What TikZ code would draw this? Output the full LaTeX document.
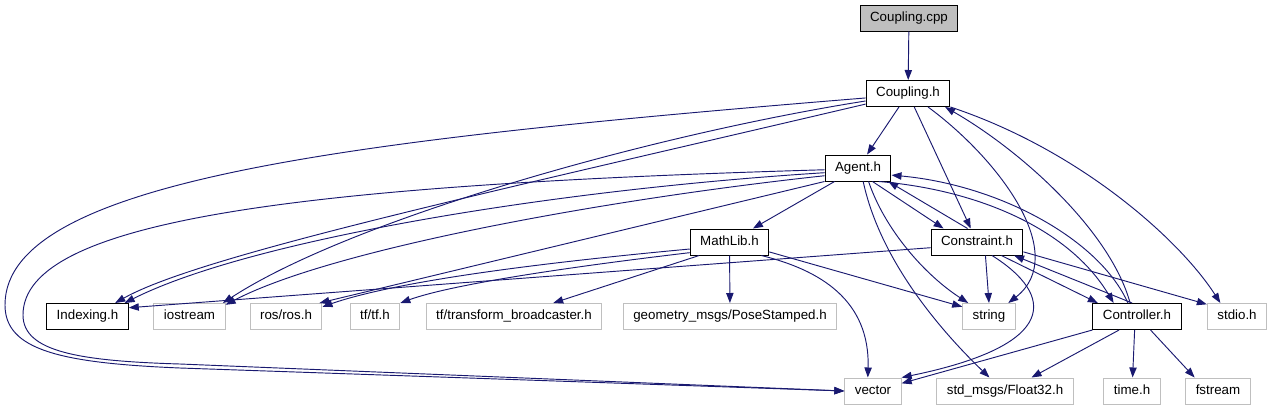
\documentclass[tikz,border=0pt]{standalone}
\usepackage{fontspec}
\setmainfont{Liberation Sans}
\usepackage{tikz}
\usetikzlibrary{arrows.meta}
\definecolor{edgeblue}{HTML}{191970}
\definecolor{extgray}{HTML}{BFBFBF}
\tikzset{
  filebox/.style={draw=black, fill=white, line width=0.75pt, inner xsep=7.5pt, inner ysep=0pt,
    minimum height=19.5pt, text height=7.2pt, text depth=2.1pt, font=\fontsize{10}{12}\selectfont, text=black},
  extbox/.style={filebox, draw=extgray},
  rootbox/.style={filebox, fill=extgray},
  incl/.style={-{Triangle[length=7.5pt,width=5.5pt]}, draw=edgeblue, line width=0.7pt}
}

\begin{document}
\begin{tikzpicture}[x=0.75pt, y=-0.75pt]
\fill[white] (0,0) rectangle (1273,411);
\useasboundingbox (0,0) rectangle (1273,411);
% files of the project
\node[rootbox] (cpp) at (909,18) {Coupling.cpp};
\node[filebox] (coupling) at (908,93.5) {Coupling.h};
\node[filebox] (agent) at (858,168) {Agent.h};
\node[filebox] (mathlib) at (729.5,242) {MathLib.h};
\node[filebox] (constraint) at (977,242) {Constraint.h};
\node[filebox] (indexing) at (87.5,316.5) {Indexing.h};
\node[filebox] (controller) at (1137,316.5) {Controller.h};
% system headers
\node[extbox] (iostream) at (189.5,316.5) {iostream};
\node[extbox] (ros) at (286,316.5) {ros/ros.h};
\node[extbox] (tftf) at (375,316.5) {tf/tf.h};
\node[extbox] (tfbr) at (514,316.5) {tf/transform\_broadcaster.h};
\node[extbox] (geom) at (730,316.5) {geometry\_msgs/PoseStamped.h};
\node[extbox] (string) at (989,316.5) {string};
\node[extbox] (stdio) at (1237,316.5) {stdio.h};
\node[extbox] (vector) at (873,391) {vector};
\node[extbox] (float32) at (1005,391) {std\_msgs/Float32.h};
\node[extbox] (timeh) at (1132,391) {time.h};
\node[extbox] (fstream) at (1218,391) {fstream};

% includes of Coupling.h
\draw[incl] (cpp) -- (coupling);
\draw[incl] (coupling) -- (agent);
\draw[incl] (coupling) -- (constraint);
\draw[incl] (coupling.-34) .. controls (1000,160) and (1070,255) .. (string.35);
\draw[incl] (coupling.south east) .. controls (1080,150) and (1180,240) .. (stdio.141);
\draw[incl] (coupling.194) .. controls (500,190) and (200,255) .. (indexing.26);
\draw[incl] (coupling.190) .. controls (650,135) and (350,220) .. (iostream.22);
\draw[incl] (coupling.186) .. controls (350,140) and (5,180) .. (5,305)
  .. controls (5,350) and (60,363) .. (180,368) -- (vector.west);
% includes of Agent.h
\draw[incl] (agent.188) .. controls (550,190) and (250,240) .. (indexing.20);
\draw[incl] (agent.193) .. controls (600,200) and (330,250) .. (iostream.18);
\draw[incl] (agent.south west) -- (ros.22);
\draw[incl] (agent.183) .. controls (300,185) and (23,220) .. (23,315)
  .. controls (23,352) and (80,361) .. (180,364) -- (vector.west);
\draw[incl] (agent) -- (mathlib);
\draw[incl] (agent.-43) -- (constraint.158);
\draw[incl] (agent.-52) .. controls (885,230) and (925,275) .. (string.147);
\draw[incl] (agent.-69) .. controls (880,260) and (940,330) .. (float32.139);
\draw[incl] (agent.-33) .. controls (980,190) and (1070,230) .. (controller.150);
% includes of MathLib.h
\draw[incl] (mathlib.190) .. controls (550,262) and (400,280) .. (ros.15);
\draw[incl] (mathlib.195) .. controls (560,268) and (450,285) .. (tftf.north east);
\draw[incl] (mathlib.204) -- (tfbr.19);
\draw[incl] (mathlib) -- (geom);
\draw[incl] (mathlib.-14) -- (string.160);
\draw[incl] (mathlib.-23) .. controls (820,270) and (870,300) .. (vector.111);
% includes of Constraint.h
\draw[incl] (constraint.125) -- (agent.-24);
\draw[incl] (constraint.187) -- (indexing.12);
\draw[incl] (constraint.-58) -- (string.north);
\draw[incl] (constraint.-42) .. controls (1055,295) and (1060,345) .. (vector.north east);
\draw[incl] (constraint.-29) -- (controller.161);
\draw[incl] (constraint.-12) -- (stdio.158);
% includes of Controller.h
\draw[incl] (controller.117) .. controls (1110,230) and (1020,150) .. (coupling.-20);
\draw[incl] (controller.124) .. controls (1100,240) and (1000,185) .. (agent.-12);
\draw[incl] (controller.110) -- (constraint.-20);
\draw[incl] (controller.south west) -- (vector.15);
\draw[incl] (controller.-143) -- (float32.27);
\draw[incl] (controller.-100) -- (timeh);
\draw[incl] (controller.-45) -- (fstream.150);
\end{tikzpicture}
\end{document}
